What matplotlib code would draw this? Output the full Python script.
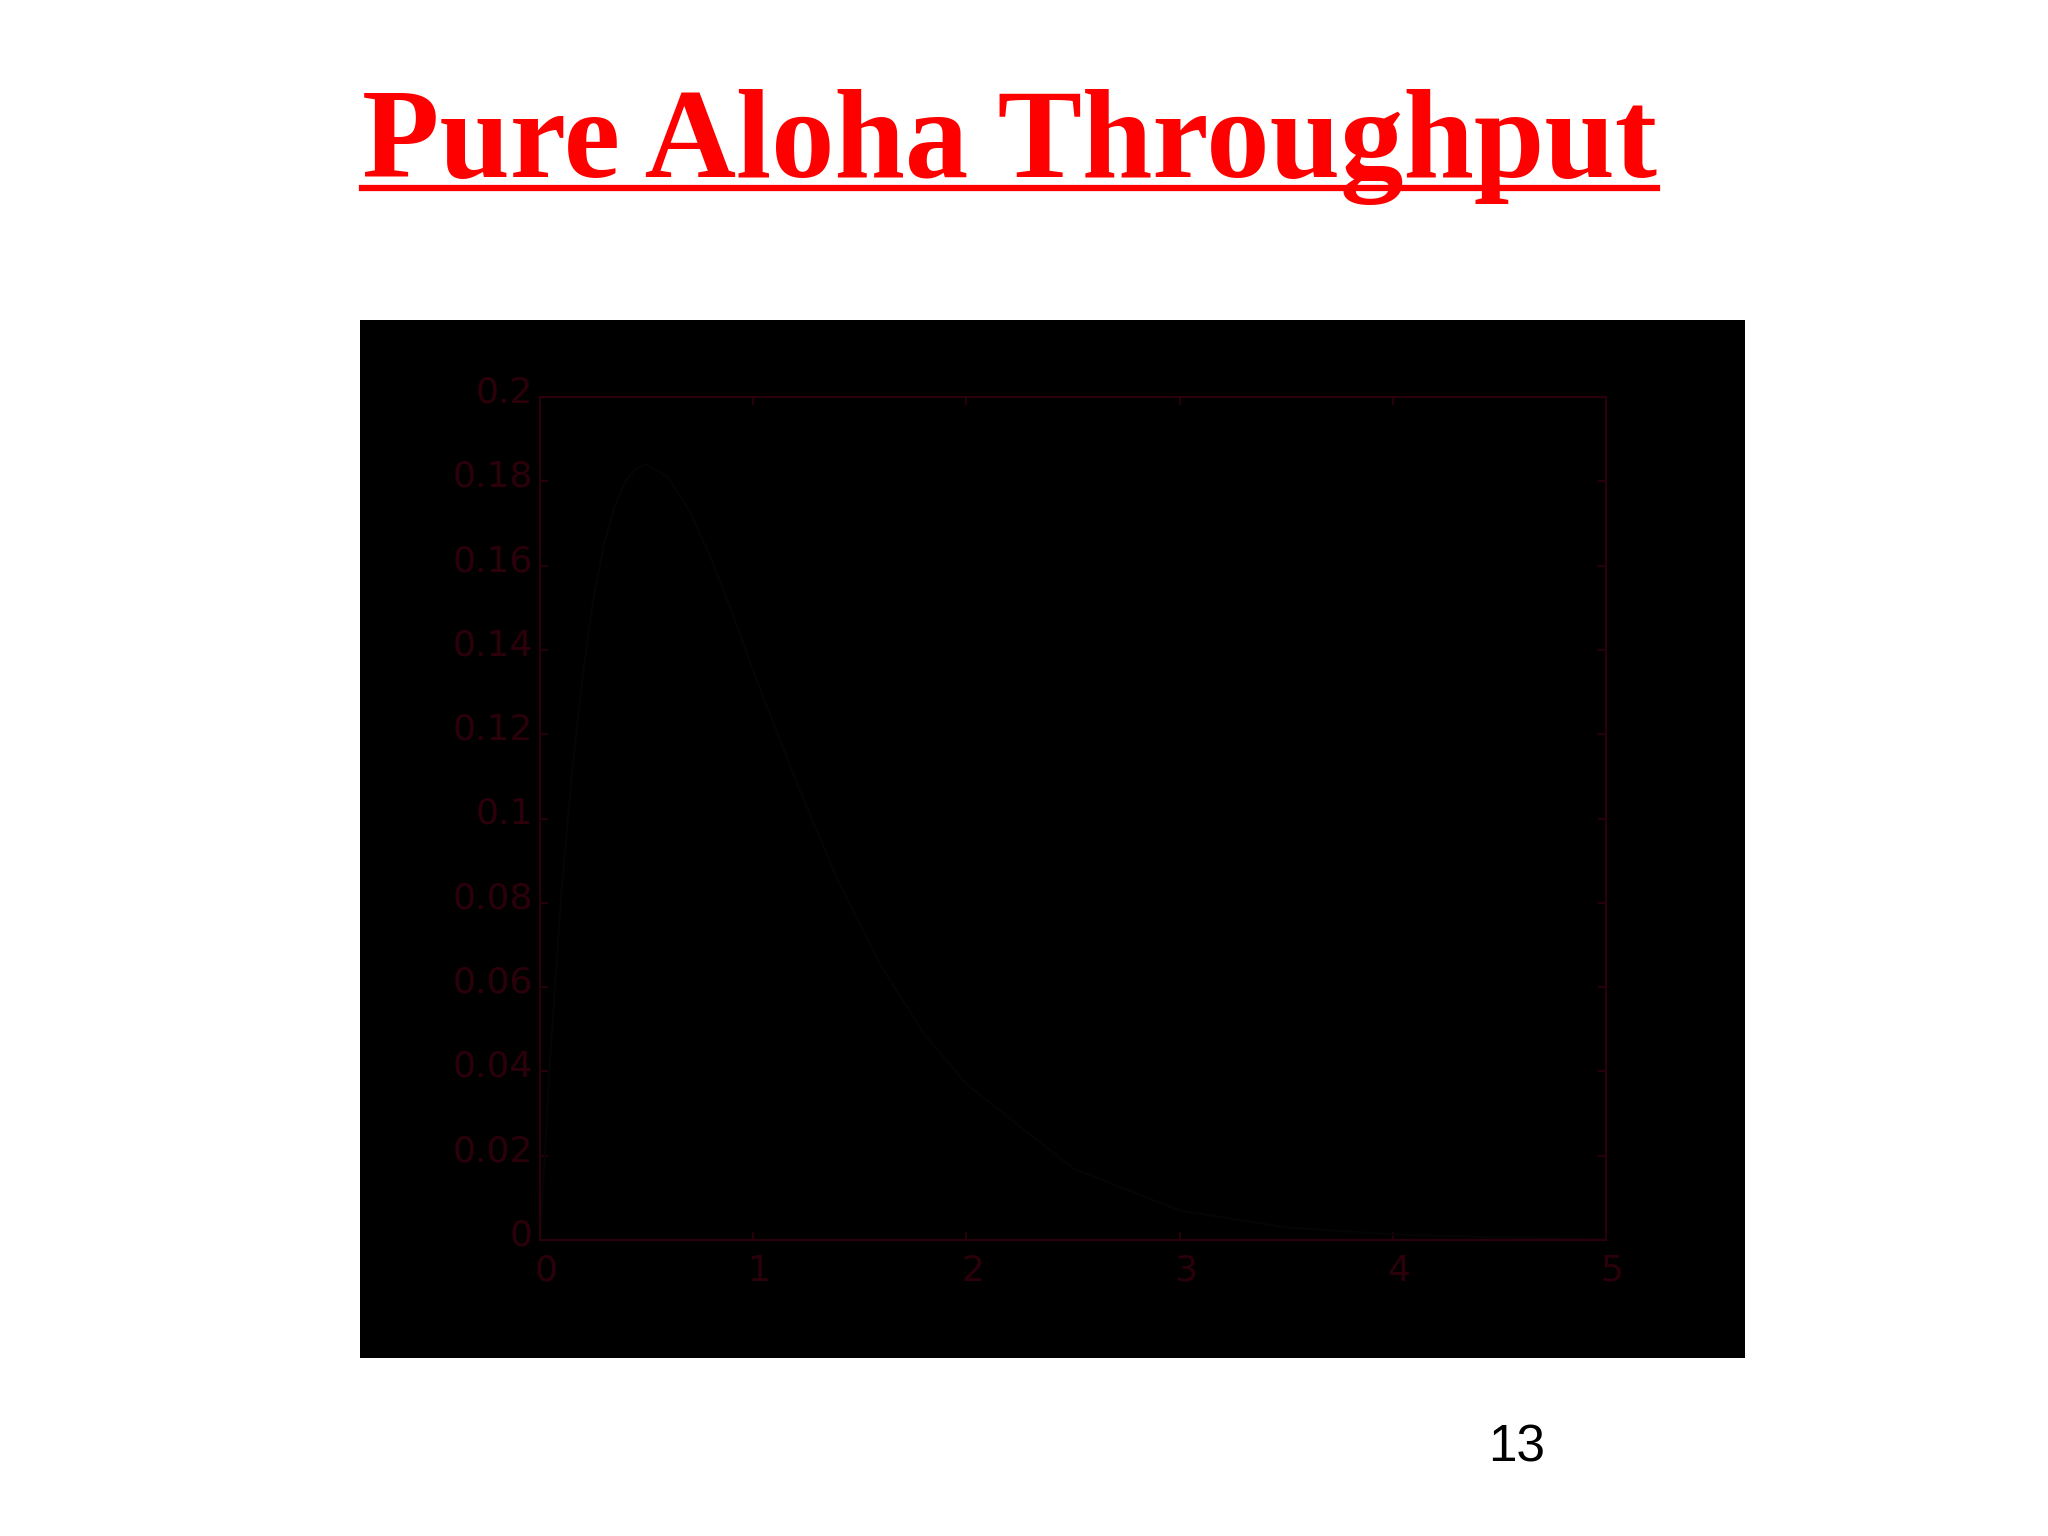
import matplotlib.pyplot as plt
from matplotlib.patches import Rectangle
from matplotlib.lines import Line2D
from matplotlib.transforms import ScaledTranslation

# offered load G and throughput S
G = [0, 0.05, 0.1, 0.15, 0.2, 0.25, 0.3, 0.35, 0.4, 0.45, 0.5, 0.6, 0.7, 0.8, 0.9,
     1.0, 1.2, 1.4, 1.6, 1.8, 2.0, 2.5, 3.0, 3.5, 4.0, 4.5, 5.0]
S = [0, 0.045, 0.082, 0.111, 0.134, 0.152, 0.165, 0.174, 0.180, 0.183, 0.184, 0.181,
     0.173, 0.162, 0.149, 0.135, 0.109, 0.085, 0.065, 0.049, 0.037, 0.017, 0.007,
     0.003, 0.0013, 0.0006, 0.0002]
xticks = [0, 1, 2, 3, 4, 5]
yticks = [0, 0.02, 0.04, 0.06, 0.08, 0.1, 0.12, 0.14, 0.16, 0.18, 0.2]
ytick_labels = ["0", "0.02", "0.04", "0.06", "0.08", "0.1", "0.12", "0.14", "0.16", "0.18", "0.2"]
title = "Pure Aloha Throughput"
page = "13"

W, H = 2048, 1536
fig = plt.figure(figsize=(W / 100, H / 100), dpi=100)
fig.patch.set_facecolor("white")

# black picture box on the slide (behind the axes)
fig.patches.append(Rectangle((360 / W, 1 - 1358 / H), 1385 / W, 1038 / H,
                             transform=fig.transFigure, facecolor="black",
                             edgecolor="none", zorder=-5))

dark = "#2c000a"
ax = fig.add_axes([540 / W, 1 - 1240 / H, 1066 / W, 843 / H])
ax.set_zorder(2)
ax.set_facecolor("black")
ax.plot(G, S, color="#050505", lw=1.5)
ax.set_xlim(0, 5)
ax.set_ylim(0, 0.2)
ax.set_xticks(xticks)
ax.set_yticks(yticks)
ax.set_yticklabels(ytick_labels)
for sp in ax.spines.values():
    sp.set_color(dark)
    sp.set_linewidth(1.5)
ax.tick_params(direction="in", length=6, width=1.2, colors=dark, labelcolor=dark,
               labelsize=26, top=True, right=True, pad=10)
ax.tick_params(axis="y", pad=5)
for lab in ax.get_xticklabels() + ax.get_yticklabels():
    lab.set_fontfamily("DejaVu Sans")
for lab in ax.get_xticklabels():
    lab.set_transform(lab.get_transform() + ScaledTranslation(6 / 100, 0, fig.dpi_scale_trans))
for lab in ax.get_yticklabels():
    lab.set_transform(lab.get_transform() + ScaledTranslation(0, 8 / 100, fig.dpi_scale_trans))

# title, sized to the width it has on the slide, with underline
t = fig.text(362 / W, 1 - 177 / H, title, color="red", fontsize=88,
             fontfamily="Liberation Serif", fontweight="bold", ha="left", va="baseline")
r = fig.canvas.get_renderer()
w = t.get_window_extent(r).width
t.set_fontsize(88 * 1295 / w)
fig.add_artist(Line2D([362 / W, 1657 / W], [1 - 188 / H, 1 - 188 / H],
                      transform=fig.transFigure, color="red", lw=4.5))

fig.text(1517 / W, 1 - 1461 / H, page, fontsize=37, fontfamily="Liberation Sans",
         color="black", ha="center", va="baseline")

plt.savefig("out.png", dpi=100)
